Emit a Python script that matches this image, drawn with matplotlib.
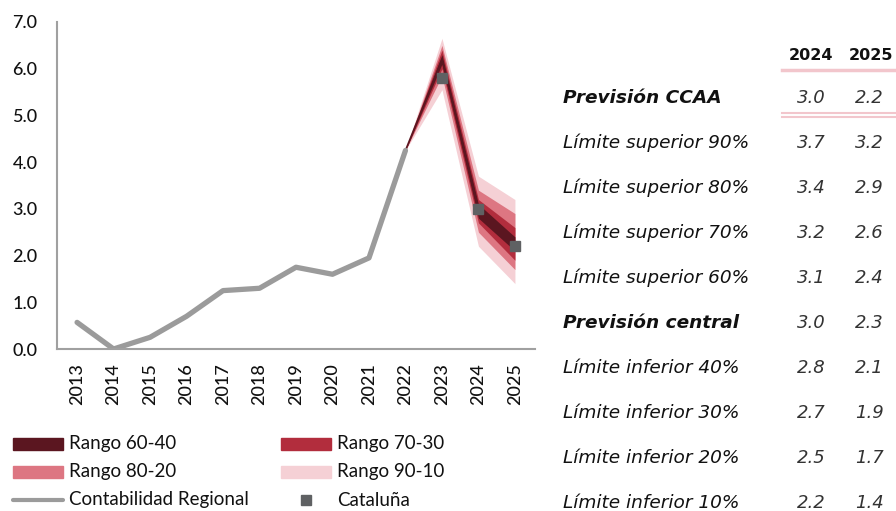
import numpy as np
import matplotlib
matplotlib.use('Agg')
import matplotlib.pyplot as plt
from matplotlib.patches import Rectangle
from matplotlib.lines import Line2D

# Contabilidad Regional (historical)
hist_years = [2013, 2014, 2015, 2016, 2017, 2018, 2019, 2020, 2021, 2022]
hist_vals = [0.57, 0.0, 0.25, 0.7, 1.25, 1.3, 1.75, 1.6, 1.95, 4.25]

# Fan chart percentiles
fan_years = [2022, 2023, 2024, 2025]
p90 = [4.25, 6.65, 3.7, 3.2]
p80 = [4.25, 6.50, 3.4, 2.9]
p70 = [4.25, 6.40, 3.2, 2.6]
p60 = [4.25, 6.30, 3.1, 2.4]
central = [4.25, 6.20, 3.0, 2.3]
p40 = [4.25, 6.10, 2.8, 2.1]
p30 = [4.25, 6.00, 2.7, 1.9]
p20 = [4.25, 5.85, 2.5, 1.7]
p10 = [4.25, 5.55, 2.2, 1.4]

# Cataluña markers
cat_years = [2023, 2024, 2025]
cat_vals = [5.8, 3.0, 2.2]

# Table
table_cols = ['2024', '2025']
table_rows = ['Previsión CCAA', 'Límite superior 90%', 'Límite superior 80%',
              'Límite superior 70%', 'Límite superior 60%', 'Previsión central',
              'Límite inferior 40%', 'Límite inferior 30%', 'Límite inferior 20%',
              'Límite inferior 10%']
table_2024 = ['3.0', '3.7', '3.4', '3.2', '3.1', '3.0', '2.8', '2.7', '2.5', '2.2']
table_2025 = ['2.2', '3.2', '2.9', '2.6', '2.4', '2.3', '2.1', '1.9', '1.7', '1.4']
bold_rows = ['Previsión CCAA', 'Previsión central']

c6040 = '#5B1620'
c7030 = '#B22D3D'
c8020 = '#DD7682'
c9010 = '#F5D0D5'
cgray = '#9B9B9B'
cmark = '#5F6163'
cpink = '#F2C6CC'

W, H = 896, 511
fig = plt.figure(figsize=(W / 100, H / 100), dpi=100)
ax = fig.add_axes([57 / W, 1 - 349 / H, (535 - 57) / W, (349 - 22) / H])

ax.fill_between(fan_years, p10, p90, color=c9010, lw=0)
ax.fill_between(fan_years, p20, p80, color=c8020, lw=0)
ax.fill_between(fan_years, p30, p70, color=c7030, lw=0)
ax.fill_between(fan_years, p40, p60, color=c6040, lw=0)
ax.plot(fan_years, central, color=c6040, lw=1.2)
ax.plot(hist_years, hist_vals, color=cgray, lw=3.8, solid_capstyle='round')
ax.plot(cat_years, cat_vals, 's', color=cmark, ms=7.5)

ax.set_xlim(2012.45, 2025.55)
ax.set_ylim(0, 7)
ax.set_xticks(range(2013, 2026))
ax.set_xticklabels([str(y) for y in range(2013, 2026)], rotation=90)
ax.set_yticks(np.arange(0, 8))
ax.set_yticklabels([f'{v:.1f}' for v in range(0, 8)])
for s in ['top', 'right']:
    ax.spines[s].set_visible(False)
for s in ['left', 'bottom']:
    ax.spines[s].set_color('#A0A0A0')
    ax.spines[s].set_linewidth(1.5)
ax.tick_params(axis='both', length=0, labelsize=13, colors='#111111')
ax.tick_params(axis='y', pad=14)
ax.tick_params(axis='x', pad=10)
for lab in ax.get_xticklabels() + ax.get_yticklabels():
    lab.set_family('Lato')
    lab.set_fontweight('medium')

# Legend drawn by hand in pixel coordinates
def fx(x):
    return x / W

def fy(y):
    return 1 - y / H

legend_items = [
    ('Rango 60-40', 'patch', c6040, 13, 444),
    ('Rango 70-30', 'patch', c7030, 281, 444),
    ('Rango 80-20', 'patch', c8020, 13, 472),
    ('Rango 90-10', 'patch', c9010, 281, 472),
    ('Contabilidad Regional', 'line', cgray, 13, 500),
    ('Cataluña', 'marker', cmark, 281, 500),
]
for label, kind, col, x0, yc in legend_items:
    if kind == 'patch':
        fig.patches.append(Rectangle((fx(x0), fy(yc + 6)), 50 / W, 12 / H,
                                     color=col, transform=fig.transFigure))
    elif kind == 'line':
        fig.lines.append(Line2D([fx(x0), fx(x0 + 50)], [fy(yc), fy(yc)], color=col,
                                lw=3, solid_capstyle='round', transform=fig.transFigure))
    else:
        fig.lines.append(Line2D([fx(x0 + 25)], [fy(yc)], marker='s', ms=7.5, color=col,
                                transform=fig.transFigure))
    tx = x0 + 56
    fig.text(fx(tx), fy(yc), label, fontsize=13.5, family='Lato', color='#111111',
             va='center', ha='left')

# Table
fig.text(fx(811), fy(55), table_cols[0], fontsize=11.5, fontweight='bold',
         color='#111111', ha='center', va='center')
fig.text(fx(871), fy(55), table_cols[1], fontsize=11.5, fontweight='bold',
         color='#111111', ha='center', va='center')
fig.lines.append(Line2D([fx(782), fx(896)], [fy(70), fy(70)], color=cpink, lw=2.5,
                        transform=fig.transFigure))
fig.lines.append(Line2D([fx(782), fx(896)], [fy(113), fy(113)], color=cpink, lw=1.5,
                        transform=fig.transFigure))
fig.lines.append(Line2D([fx(782), fx(896)], [fy(117.5), fy(117.5)], color=cpink, lw=1.5,
                        transform=fig.transFigure))

for i, (lab, v1, v2) in enumerate(zip(table_rows, table_2024, table_2025)):
    yc = 98 + 45 * i
    w = 'bold' if lab in bold_rows else 'normal'
    fig.text(fx(563), fy(yc), lab, fontsize=13.3, style='italic', fontweight=w,
             color='#111111', ha='left', va='center')
    fig.text(fx(811), fy(yc), v1, fontsize=13, style='italic', color='#333333',
             ha='center', va='center')
    fig.text(fx(869), fy(yc), v2, fontsize=13, style='italic', color='#333333',
             ha='center', va='center')

fig.savefig('out.png', dpi=100)
